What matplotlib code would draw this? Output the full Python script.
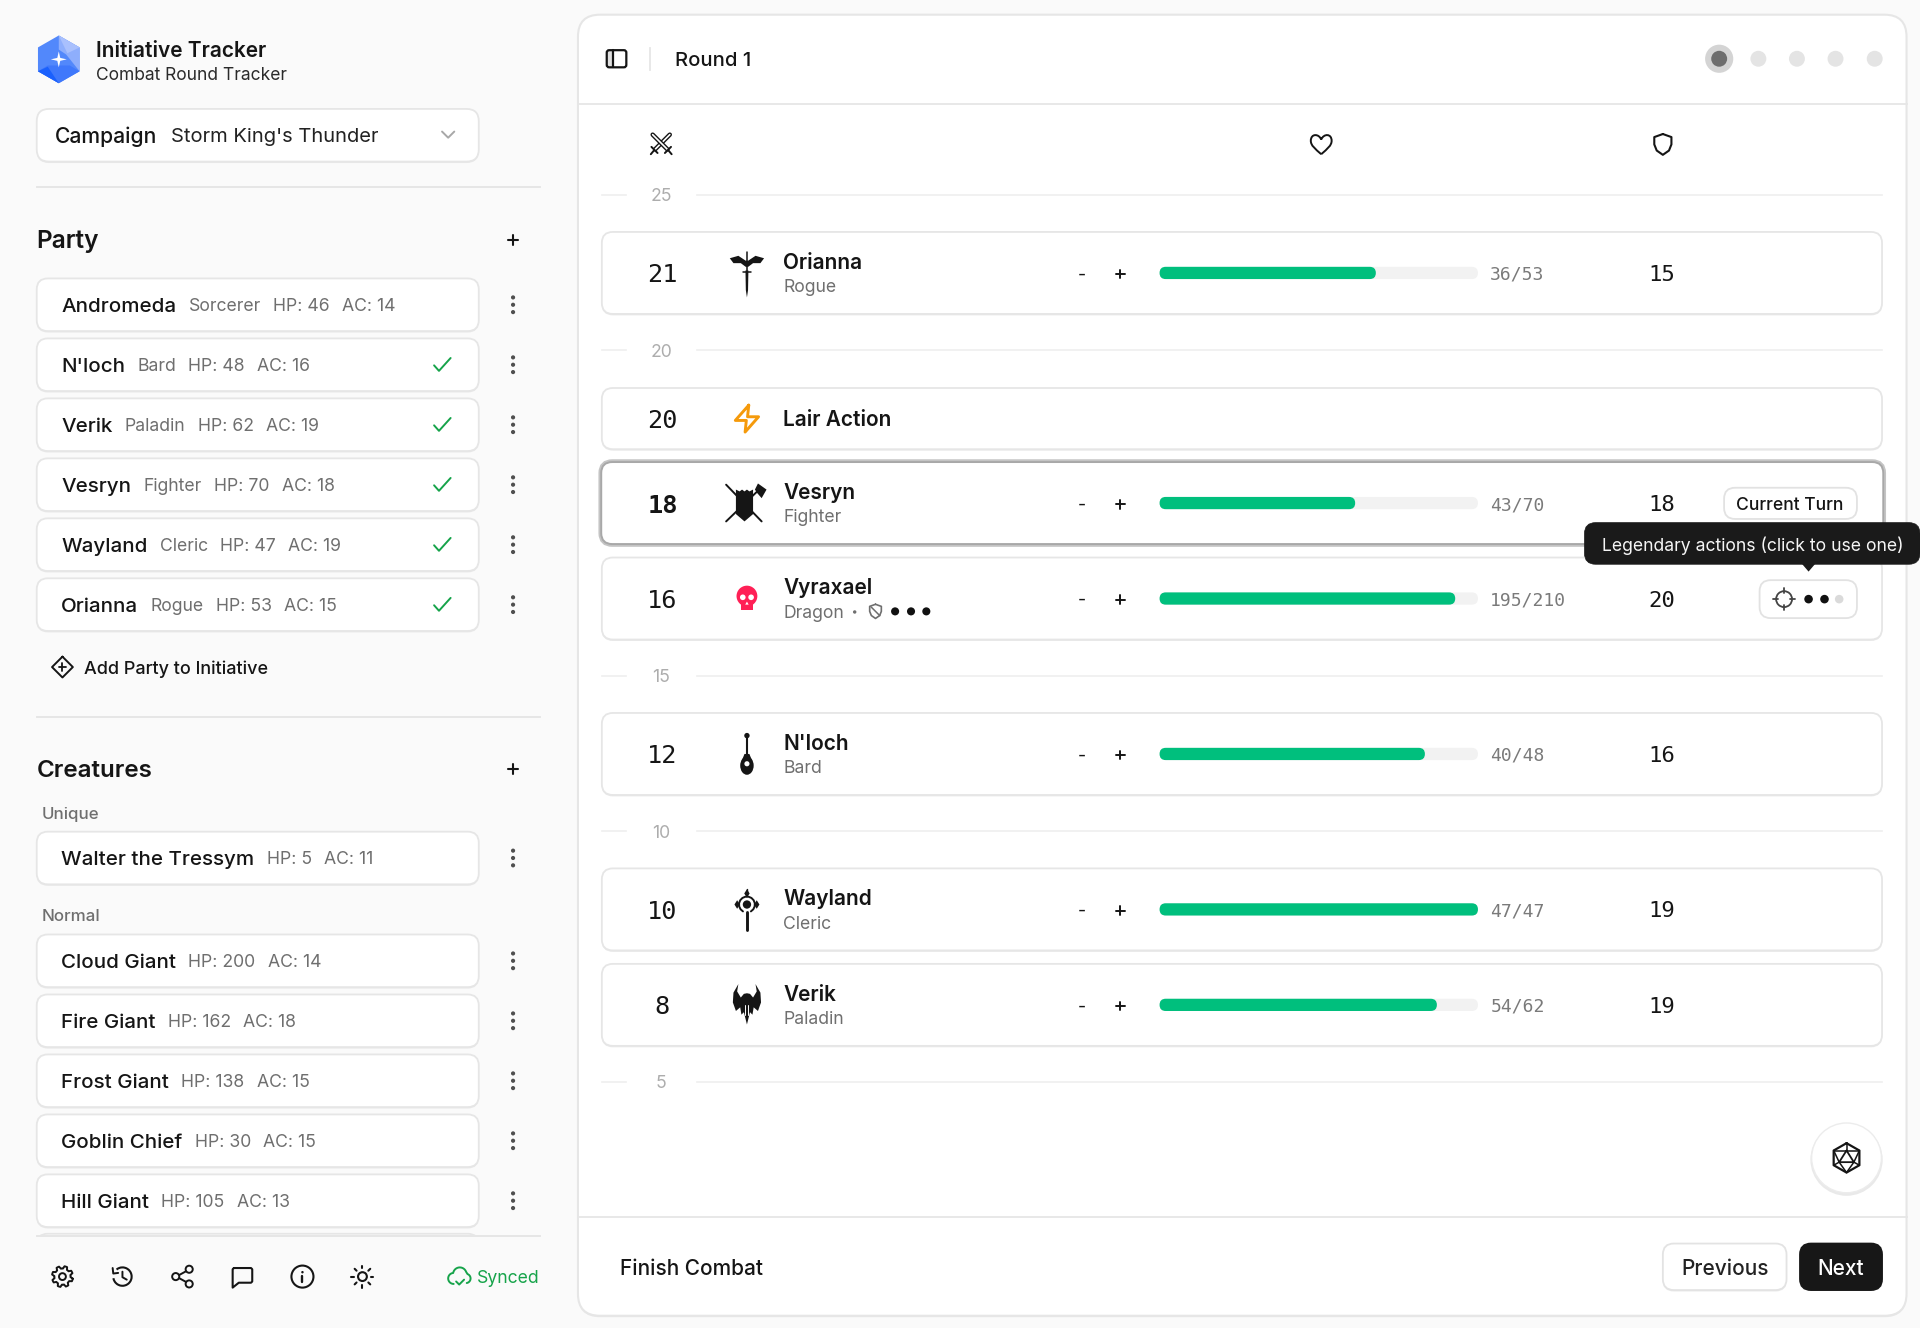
import numpy as np
import matplotlib
matplotlib.use('Agg')
import matplotlib.pyplot as plt
from matplotlib.patches import FancyBboxPatch, Circle, Polygon, PathPatch, Arc, Rectangle, Ellipse
from matplotlib.path import Path

plt.rcParams['font.family'] = ['Inter', 'DejaVu Sans']

party_names = ['Andromeda', "N'loch", 'Verik', 'Vesryn', 'Wayland', 'Orianna']
party_classes = ['Sorcerer', 'Bard', 'Paladin', 'Fighter', 'Cleric', 'Rogue']
party_hp = [46, 48, 62, 70, 47, 53]
party_ac = [14, 16, 19, 18, 19, 15]
party_added = [False, True, True, True, True, True]

unique_names = ['Walter the Tressym']
unique_hp = [5]
unique_ac = [11]

normal_names = ['Cloud Giant', 'Fire Giant', 'Frost Giant', 'Goblin Chief', 'Hill Giant']
normal_hp = [200, 162, 138, 30, 105]
normal_ac = [14, 18, 15, 15, 13]

tick_values = [25, 20, 15, 10, 5]

row_init = [21, 20, 18, 16, 12, 10, 8]
row_names = ['Orianna', 'Lair Action', 'Vesryn', 'Vyraxael', "N'loch", 'Wayland', 'Verik']
row_subs = ['Rogue', '', 'Fighter', 'Dragon', 'Bard', 'Cleric', 'Paladin']
row_hp = [36, None, 43, 195, 40, 47, 54]
row_max = [53, None, 70, 210, 48, 47, 62]
row_ac = [15, None, 18, 20, 16, 19, 19]

# layout, in pixels of a 1568 wide view
row_mid = [223, 342, 411, 489, 616, 743, 821]
tick_y = [159, 286, 552, 679, 884]
BAR_X, BAR_W = 947, 260

INK = '#151515'
GREY = '#6f6f6f'
LINE = '#e6e6e6'
GREEN = '#00bf7d'
MONO = 'DejaVu Sans Mono'

fig = plt.figure(figsize=(19.2, 13.28), dpi=100, facecolor='#fafafa')
ax = fig.add_axes([0, 0, 1, 1])
ax.set_xlim(0, 1568)
ax.set_ylim(1085, 0)
ax.axis('off')


def box(x0, y0, x1, y1, r=8, fc='white', ec=LINE, lw=1.3, z=2, shadow=True):
    if shadow:
        s = FancyBboxPatch((x0, y0 + 1.2), x1 - x0, y1 - y0, boxstyle=f'round,pad=0,rounding_size={r}',
                           fc='#dedede', ec='none', alpha=0.6, zorder=z - 0.1)
        ax.add_patch(s)
    b = FancyBboxPatch((x0, y0), x1 - x0, y1 - y0, boxstyle=f'round,pad=0,rounding_size={r}',
                       fc=fc, ec=ec, lw=lw, zorder=z)
    ax.add_patch(b)
    return b


def txt(x, y, s, size=12.7, color=INK, weight='normal', ha='left', family=None, z=6):
    kw = {}
    if family:
        kw['family'] = family
    return ax.text(x, y, s, fontsize=size, color=color, fontweight=weight, ha=ha, va='center_baseline',
                   zorder=z, **kw)


def chain(x, y, spans, gap=10):
    # draw text pieces one after another, measuring each one
    rend = fig.canvas.get_renderer()
    inv = ax.transData.inverted()
    for s, size, color, weight in spans:
        t = txt(x, y, s, size, color, weight)
        bb = t.get_window_extent(rend)
        x = inv.transform((bb.x1, bb.y0))[0] + gap


def stroke(cx, cy, pts, color=INK, lw=1.6, s=1.0, z=6, closed=False):
    pts = np.array(pts, dtype=float) * s + [cx, cy]
    if closed:
        pts = np.vstack([pts, pts[:1]])
    ax.plot(pts[:, 0], pts[:, 1], color=color, lw=lw, zorder=z, solid_capstyle='round', solid_joinstyle='round')


def fill(cx, cy, pts, color=INK, s=1.0, z=6, ec='none', lw=0):
    pts = np.array(pts, dtype=float) * s + [cx, cy]
    ax.add_patch(Polygon(pts, closed=True, fc=color, ec=ec, lw=lw, zorder=z))


def dot(x, y, r, color=INK, z=6, ec='none', lw=0):
    ax.add_patch(Circle((x, y), r, fc=color, ec=ec, lw=lw, zorder=z))


def ring(x, y, r, color=INK, lw=1.6, z=6):
    ax.add_patch(Circle((x, y), r, fc='none', ec=color, lw=lw, zorder=z))


def arc_pts(cx, cy, r, a0, a1):
    a = np.radians(np.linspace(a0, a1, 14))
    return np.c_[cx + r * np.cos(a), cy + r * np.sin(a)]


def kebab(x, y):
    for d in (-6, 0, 6):
        dot(x, y + d, 1.7, '#4f4f4f')


def check(x, y, color='#16a34a'):
    stroke(x, y, [(-6.5, 0.5), (-2.5, 5), (7, -5.5)], color, 1.4)


def plus(x, y, h=4, color=INK, lw=1.5):
    stroke(x, y, [(-h, 0), (h, 0)], color, lw)
    stroke(x, y, [(0, -h), (0, h)], color, lw)


def logo(cx, cy):
    r, w = 19.5, 17
    hx = [(0, -r), (w, -r / 2), (w, r / 2), (0, r), (-w, r / 2), (-w, -r / 2)]
    fill(cx, cy, hx, '#5288fb')
    fill(cx, cy, [(0, -r), (w, -r / 2), (w, r / 2), (6, -4), (0, -8)], '#8eaefc')
    fill(cx, cy, [(0, -r), (w, -r / 2), (7, -5)], '#a9c0fd')
    fill(cx, cy, [(-w, r / 2), (0, r), (w, r / 2), (9, 5), (-9, 5)], '#3f78fb')
    fill(cx, cy, [(-w, r / 2), (0, r), (-9, 6)], '#1a60fd')
    fill(cx, cy, [(-6.5, 0), (-1.2, -1.2), (0, -6.5), (1.2, -1.2), (6.5, 0), (1.2, 1.2), (0, 6.5), (-1.2, 1.2)], 'white')


def gear(cx, cy, color=INK):
    ang = np.linspace(0, 2 * np.pi, 8 * 6, endpoint=False) + np.pi / 16
    rad = np.where(np.arange(48) % 6 < 3, 8.6, 6.6)
    stroke(cx, cy, np.c_[rad * np.cos(ang), rad * np.sin(ang)], color, 1.4, closed=True)
    ring(cx, cy, 2.8, color, 1.4)


def history(cx, cy, color=INK):
    ax.add_patch(Arc((cx, cy), 15, 15, theta1=-130, theta2=170, ec=color, lw=1.5, zorder=6))
    stroke(cx, cy, [(-8, -7), (-7.5, -2.5), (-3.5, -3)], color, 1.4)
    stroke(cx, cy, [(0, -4), (0, 0.5), (3.5, 2.5)], color, 1.4)


def share(cx, cy, color=INK):
    stroke(cx, cy, [(5, -5.5), (-5, 0), (5, 5.5)], color, 1.4)
    for p in ((5.5, -6), (-5.5, 0), (5.5, 6)):
        dot(cx + p[0], cy + p[1], 2.9, '#fafafa', ec=color, lw=1.4, z=7)


def chat(cx, cy, color=INK):
    stroke(cx, cy, [(-7, -7), (7, -7), (8, -6), (8, 4), (7, 5), (-3, 5), (-8, 9), (-8, -6)], color, 1.5, closed=True)


def info(cx, cy, color=INK):
    ring(cx, cy, 9, color, 1.5)
    stroke(cx, cy, [(0, -0.5), (0, 4.5)], color, 1.7)
    dot(cx, cy - 3.6, 1.0, color)


def sun(cx, cy, color=INK):
    ring(cx, cy, 3.6, color, 1.5)
    for a in np.arange(8) * np.pi / 4:
        c, s = np.cos(a), np.sin(a)
        stroke(cx, cy, [(6.8 * c, 6.8 * s), (9 * c, 9 * s)], color, 1.5)


def cloud(cx, cy, color='#16a34a'):
    outline = np.vstack([arc_pts(-4.5, 1.5, 4.5, 90, 250), arc_pts(0.5, -2, 5.5, 190, 340),
                         arc_pts(5.5, 1.5, 3.8, 290, 440)])
    stroke(cx, cy, outline, color, 1.4)
    stroke(cx, cy, [(-2.5, 4), (0, 6.5), (4, 2.5)], color, 1.4)


def sidebar_icon(cx, cy):
    box(cx - 8, cy - 7, cx + 8, cy + 7, r=2, fc='none', ec=INK, lw=1.6, z=6, shadow=False)
    stroke(cx, cy, [(-2.5, -7), (-2.5, 7)], INK, 1.6)
    ax.add_patch(Rectangle((cx - 8, cy - 7), 5.5, 14, fc='#e0e0e0', ec='none', zorder=5))


def swords(cx, cy, color=INK):
    stroke(cx, cy, [(7, -8), (-5, 4)], color, 3.2)
    stroke(cx, cy, [(7, -8), (-5, 4)], 'white', 1.2, z=6.1)
    stroke(cx, cy, [(-7, -8), (5, 4)], color, 3.2, z=6.2)
    stroke(cx, cy, [(-7, -8), (5, 4)], 'white', 1.2, z=6.3)
    stroke(cx, cy, [(-8, 2), (-3, 7)], color, 1.4, z=6.4)
    stroke(cx, cy, [(8, 2), (3, 7)], color, 1.4, z=6.4)
    stroke(cx, cy, [(-6, 5), (-8.5, 8)], color, 1.4, z=6.4)
    stroke(cx, cy, [(6, 5), (8.5, 8)], color, 1.4, z=6.4)


def heart(cx, cy, color=INK):
    v = [(0, 8), (-5, 3.5), (-8.5, 1), (-8.5, -3), (-8.5, -9), (-2, -9), (0, -4)]
    v2 = [(0, -4), (2, -9), (8.5, -9), (8.5, -3), (8.5, 1), (5, 3.5), (0, 8)]
    verts = v + v2[1:]
    codes = [Path.MOVETO] + [Path.CURVE4] * (len(verts) - 1)
    verts = np.array(verts) + [cx, cy]
    ax.add_patch(PathPatch(Path(verts, codes), fc='none', ec=color, lw=1.4, zorder=6))


def shield(cx, cy, color=INK, s=1.0, lw=1.5):
    pts = [(0, -8.5), (7, -6), (7, 0), (5, 5), (0, 8.5), (-5, 5), (-7, 0), (-7, -6)]
    stroke(cx, cy, pts, color, lw, s=s, closed=True)


def vesryn_icon(cx, cy):
    fill(cx - 2, cy, [(-7, -11), (-4, -9.5), (-2, -11), (0, -9.5), (2, -11), (4, -9.5), (7, -11), (7, 9), (0, 15), (-7, 9)], '#151515')
    stroke(cx - 2, cy, [(-15, -15), (14, 15)], INK, 1.4, z=5)
    stroke(cx - 2, cy, [(-15, 15), (13, -12)], INK, 1.4, z=5)
    fill(cx - 2, cy, [(11, -16), (18, -11), (14, -4), (10.5, -8), (8.5, -11)], INK)


def orianna_icon(cx, cy):
    stroke(cx, cy, [(0, -17), (0, 6)], INK, 1.1)
    fill(cx, cy, [(-1.2, -2), (1.2, -2), (0.9, 14), (0, 20), (-0.9, 14)], INK)
    fill(cx, cy, [(-14, -12), (-7, -14), (-1, -10), (1, -10), (7, -14), (14, -12), (11, -8), (5, -8), (1, -5), (-1, -5), (-5, -8), (-11, -8)], INK)
    stroke(cx, cy, [(-3.5, -1), (3.5, -1)], INK, 1.1)


def bolt(cx, cy, color='#f59a0b'):
    stroke(cx, cy, [(1.5, -11), (-9.5, 1.5), (-0.5, 1.5), (-1.5, 11), (9.5, -1.5), (0.5, -1.5)], color, 2.1, closed=True)


def skull(cx, cy, color='#ff2056'):
    dot(cx, cy - 2, 8.5, color)
    fill(cx, cy, [(-5, 3), (5, 3), (5, 9), (-5, 9)], color)
    dot(cx - 3.4, cy - 1, 2.3, 'white', z=7)
    dot(cx + 3.4, cy - 1, 2.3, 'white', z=7)
    fill(cx, cy, [(0, 2.5), (1.4, 5), (-1.4, 5)], 'white', z=7)


def lute_icon(cx, cy):
    stroke(cx, cy, [(0, -15), (0, 6)], INK, 1.5)
    dot(cx, cy - 15, 2.2, INK)
    ax.add_patch(Ellipse((cx, cy + 9.5), 11, 15, fc=INK, ec='none', zorder=6))
    fill(cx, cy, [(-2, 0), (2, 0), (4, 5), (-4, 5)], INK)
    dot(cx, cy + 8, 2.1, 'white', z=7)


def wayland_icon(cx, cy):
    stroke(cx, cy, [(0, 2), (0, 16.5)], INK, 2.1)
    stroke(cx, cy, arc_pts(0, -4, 6.5, 120, 420), INK, 1.4)
    dot(cx, cy - 4, 3.4, INK)
    for p in ((0, -13), (-8, -4), (8, -4)):
        fill(cx + p[0], cy + p[1], [(0, -3.5), (2.2, 0), (0, 3.5), (-2.2, 0)], INK)
    stroke(cx, cy, [(0, -14), (0, -17)], INK, 1.0)


def verik_icon(cx, cy):
    fill(cx, cy, [(-7, -17), (-8, -11), (-5, -6), (-2.5, -9), (0, -9.5), (2.5, -9), (5, -6), (8, -11), (7, -17), (11, -10), (11.5, -2),
                  (9, 5), (5.5, 2), (4.5, 8), (2.5, 6), (0, 16), (-2.5, 6), (-4.5, 8), (-5.5, 2), (-9, 5), (-11.5, -2), (-11, -10)], INK)
    stroke(cx, cy, [(-1.2, 0), (-1.2, 8)], 'white', 0.7, z=7)
    stroke(cx, cy, [(1.2, 0), (1.2, 8)], 'white', 0.7, z=7)


def d20(cx, cy):
    r, w = 12, 10.5
    hx = [(0, -r), (w, -r / 2), (w, r / 2), (0, r), (-w, r / 2), (-w, -r / 2)]
    stroke(cx, cy, hx, INK, 1.6, closed=True, z=8)
    stroke(cx, cy, [(0, -6), (6, 3.5), (-6, 3.5)], INK, 1.3, closed=True, z=8)
    for a, b in [((0, -r), (0, -6)), ((w, -r / 2), (0, -6)), ((-w, -r / 2), (0, -6)), ((w, r / 2), (6, 3.5)),
                 ((-w, r / 2), (-6, 3.5)), ((0, r), (6, 3.5)), ((0, r), (-6, 3.5)), ((w, -r / 2), (6, 3.5)), ((-w, -r / 2), (-6, 3.5))]:
        stroke(cx, cy, [a, b], INK, 1.1, z=8)


def crosshair(cx, cy, color='#444444'):
    ring(cx, cy, 6.5, color, 1.3)
    for dx, dy in ((0, -1), (0, 1), (1, 0), (-1, 0)):
        stroke(cx, cy, [(5 * dx, 5 * dy), (9 * dx, 9 * dy)], color, 1.3)


def add_icon(cx, cy):
    stroke(cx, cy, [(0, -8.5), (8.5, 0), (0, 8.5), (-8.5, 0)], INK, 1.4, closed=True)
    plus(cx, cy, 3.2, INK, 1.3)


fig.canvas.draw()

# sidebar head
logo(48, 48.5)
txt(78.5, 40, 'Initiative Tracker', 15, INK, 600)
txt(78.5, 60, 'Combat Round Tracker', 12.55, '#2a2a2a')
box(30, 89, 391, 132, r=10)
txt(45, 110.5, 'Campaign', 15.2, INK, 500)
txt(140, 110.5, "Storm King's Thunder", 14.5, '#222222')
stroke(366, 110, [(-5, -2.5), (0, 2.5), (5, -2.5)], '#a8a8a8', 1.4)
ax.plot([30, 441], [153, 153], color=LINE, lw=1.4, zorder=2)

# party list
txt(30, 195, 'Party', 17.6, INK, 600)
plus(419, 196)
for i, name in enumerate(party_names):
    y = 249 + i * 49
    box(30, y - 21.5, 391, y + 21.5, r=9)
    chain(50, y, [(name, 14.8, INK, 500), (party_classes[i], 12.7, GREY, 'normal'),
                  (f'HP: {party_hp[i]}', 12.7, GREY, 'normal'), (f'AC: {party_ac[i]}', 12.7, GREY, 'normal')])
    kebab(419, y)
    if party_added[i]:
        check(361, y)
add_icon(51, 545)
txt(69, 545.5, 'Add Party to Initiative', 12.95, INK, 500)
ax.plot([30, 441], [585.5, 585.5], color=LINE, lw=1.4, zorder=2)

# creatures list
txt(30, 627.5, 'Creatures', 17.4, INK, 600)
plus(419, 628)
txt(34, 664, 'Unique', 12.2, GREY, 500)
for i, name in enumerate(unique_names):
    y = 701
    box(30, y - 21.5, 391, y + 21.5, r=9)
    chain(50, y, [(name, 14.8, INK, 500), (f'HP: {unique_hp[i]}', 12.7, GREY, 'normal'), (f'AC: {unique_ac[i]}', 12.7, GREY, 'normal')])
    kebab(419, y)
txt(34, 747.5, 'Normal', 12.2, GREY, 500)
for i, name in enumerate(normal_names):
    y = 785 + i * 49
    box(30, y - 21.5, 391, y + 21.5, r=9)
    chain(50, y, [(name, 14.8, INK, 500), (f'HP: {normal_hp[i]}', 12.7, GREY, 'normal'), (f'AC: {normal_ac[i]}', 12.7, GREY, 'normal')])
    kebab(419, y)

# next card is cut off by the footer
box(30, 1008, 391, 1050, r=9, z=2)
ax.add_patch(Rectangle((0, 1010), 470, 75, fc='#fafafa', ec='none', zorder=3))
ax.plot([30, 441], [1010, 1010], color=LINE, lw=1.4, zorder=4)

# sidebar footer
for fn, x in zip([gear, history, share, chat, info, sun], [51, 100, 149, 198, 247, 296]):
    fn(x, 1043)
cloud(375, 1043)
txt(441, 1043, 'Synced', 12.7, '#16a34a', ha='right')

# main panel
box(472, 12, 1557, 1075, r=18, ec='#e6e6e6', lw=1.5, z=1.5)
ax.plot([472, 1557], [85, 85], color=LINE, lw=1.3, zorder=2)
ax.plot([472, 1557], [994.5, 994.5], color=LINE, lw=1.3, zorder=2)
sidebar_icon(503.5, 48)
ax.plot([531, 531], [39, 57], color=LINE, lw=1.3, zorder=2)
txt(551, 48.5, 'Round 1', 14.6, INK, 500)
dot(1404, 48, 11.5, '#d4d4d4')
dot(1404, 48, 6.5, '#6e6e6e', z=7)
for x in [1436, 1467.5, 1499, 1531]:
    dot(x, 48, 6.5, '#e4e4e4')

swords(540, 118)
heart(1079, 118)
shield(1358, 118)

for v, y in zip(tick_values, tick_y):
    ax.plot([492, 511], [y, y], color='#efefef', lw=1.2, zorder=2)
    ax.plot([569, 1537], [y, y], color='#efefef', lw=1.2, zorder=2)
    txt(540, y, str(v), 12.7, '#adadad', ha='center')

icons = [orianna_icon, bolt, vesryn_icon, skull, lute_icon, wayland_icon, verik_icon]
for i, name in enumerate(row_names):
    y = row_mid[i]
    h = 25 if row_hp[i] is None else 33.5
    if name == 'Vesryn':
        box(491, y - h, 1538, y + h, r=9, ec='#c4c4c4', lw=4, shadow=False)
        box(491, y - h, 1538, y + h, r=9, ec='#a8a8a8', lw=1.4, shadow=False, z=2.1)
    else:
        box(491.5, y - h, 1537, y + h, r=9)
    txt(541, y, str(row_init[i]), 18.2, INK, 'bold' if name == 'Vesryn' else 'normal', ha='center', family=MONO)
    icons[i](610, y)
    if row_hp[i] is None:
        txt(639.5, y - 0.5, name, 15, INK, 600)
        continue
    txt(639.5, y - 10, name, 15, INK, 600)
    txt(639.5, y + 10.5, row_subs[i], 12.7, GREY)
    txt(883.5, y, '-', 12.7, INK, ha='center')
    plus(915, y + 1, 3.5, INK, 1.4)
    track = FancyBboxPatch((BAR_X, y - 5), BAR_W, 10, boxstyle='round,pad=0,rounding_size=5', fc='#f2f2f2', ec='none', zorder=3)
    ax.add_patch(track)
    bar = FancyBboxPatch((BAR_X, y - 5), BAR_W * row_hp[i] / row_max[i], 10, boxstyle='round,pad=0,rounding_size=5',
                         fc=GREEN, ec='none', zorder=4)
    ax.add_patch(bar)
    txt(1217, y, f'{row_hp[i]}/{row_max[i]}', 13, '#7a7a7a', family=MONO)
    txt(1357, y, str(row_ac[i]), 16, INK, ha='center', family=MONO)

# dragon extras
shield(715, 499.5, '#6f6f6f', s=0.68, lw=1.2)
stroke(715, 499.5, [(-3.5, -3.5), (3.5, 3.5)], '#6f6f6f', 1.1)
dot(698, 500, 1.4, GREY)
for x in [731, 744, 756.5]:
    dot(x, 499.5, 3.3, '#111111')

# current turn pill
box(1408, 398.5, 1516.5, 424, r=9, ec='#e2e2e2', shadow=False, z=5)
txt(1461.5, 411, 'Current Turn', 12.6, INK, 500, ha='center')

# legendary actions pill
box(1437, 474, 1516.5, 505, r=9, ec='#e2e2e2', shadow=False, z=5)
crosshair(1457, 489.5)
dot(1477, 489.5, 3.5, '#111111')
dot(1490, 489.5, 3.5, '#111111')
dot(1502, 489.5, 3.5, '#dadada')

# tooltip
box(1294, 427, 1568, 461, r=9, fc='#1a1a1a', ec='#1a1a1a', lw=0.5, shadow=False, z=8)
fill(1477, 460, [(-6, 0), (6, 0), (0, 7)], '#1a1a1a', z=8)
txt(1431.5, 444, 'Legendary actions (click to use one)', 12.65, '#f5f5f5', ha='center', z=9)

# floating dice button
dot(1508, 947.5, 29.5, '#e9e9e9', z=3)
dot(1508, 946, 28.5, 'white', z=4, ec='#ececec', lw=1)
d20(1508, 946)

# footer
txt(506, 1035, 'Finish Combat', 15, INK, 500)
box(1358, 1016, 1459, 1054, r=9, ec='#e3e3e3')
txt(1408.5, 1035, 'Previous', 15, '#222222', 500, ha='center')
box(1470, 1016, 1537, 1054, r=9, fc='#171717', ec='#171717', shadow=False)
txt(1503.5, 1035, 'Next', 15, 'white', 500, ha='center')

fig.savefig('out.png', dpi=100, facecolor=fig.get_facecolor())
